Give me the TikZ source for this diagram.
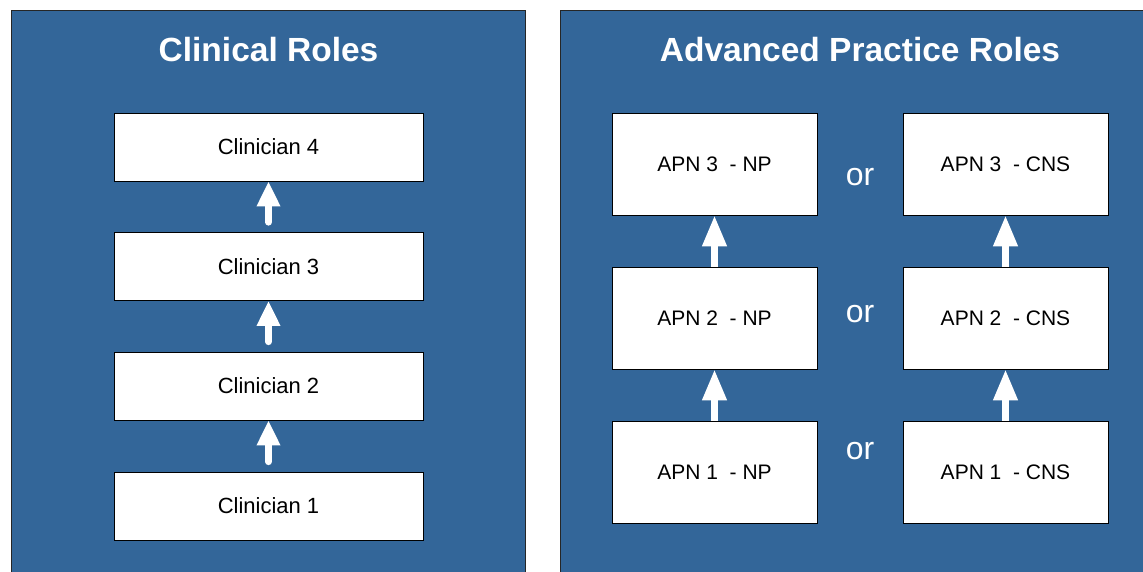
\documentclass[tikz,border=0pt]{standalone}
\usepackage{fontspec}
\setmainfont{Liberation Sans}
\usetikzlibrary{arrows.meta}

\definecolor{roleblue}{RGB}{51,102,153}

\begin{document}
\begin{tikzpicture}[x=1pt, y=-1pt,
  panel/.style={draw=black!85, fill=roleblue, line width=0.9pt},
  rolebox/.style={draw, fill=white, line width=0.7pt, font=\fontsize{21}{25}\selectfont},
  clin/.style={rolebox, minimum width=309pt, minimum height=68pt, font=\fontsize{22}{26}\selectfont},
  apn/.style={rolebox, minimum width=205pt, minimum height=102pt},
  clinarrow/.style={white, line width=7pt, line cap=round, -{Triangle[width=22pt, length=25pt]}},
  apnarrow/.style={white, line width=7pt, -{Triangle[width=23pt, length=31pt]}},
  title/.style={white, anchor=base, font=\fontsize{33.5}{40}\selectfont\bfseries},
  ortext/.style={white, font=\fontsize{32}{38}\selectfont}]
\clip (0, 0) rectangle (1143, 572);
\fill [white] (0, 0) rectangle (1143, 572);
\draw [panel] (11, 10) rectangle (525, 590);
\draw [panel] (560, 10) rectangle (1160, 590);
\node [title] (lefttitle) at (268.5, 62) {Clinical Roles};
\node [title] (righttitle) at (860, 62) {Advanced Practice Roles};
% clinical ladder
\foreach \i/\y in {1/506, 2/386, 3/266.5, 4/147}
  \node [clin] (c\i) at (268.5, \y) {Clinician \i};
\foreach \i/\j in {1/2, 2/3, 3/4}
  \draw [clinarrow] ([yshift=10pt]c\i.north) -- (c\j.south);
% advanced practice, two ladders
\foreach \i/\y in {1/472, 2/318, 3/164} {
  \node [apn] (np\i) at (714.5, \y) {APN \i~~- NP};
  \node [apn] (cns\i) at (1005.5, \y) {APN \i~~- CNS};
}
\foreach \y [count=\k] in {177, 314, 451}
  \node [ortext] (or\k) at (860, \y) {or};
\foreach \i/\j in {1/2, 2/3} {
  \draw [apnarrow] (np\i.north) -- (np\j.south);
  \draw [apnarrow] (cns\i.north) -- (cns\j.south);
}
\end{tikzpicture}
\end{document}
